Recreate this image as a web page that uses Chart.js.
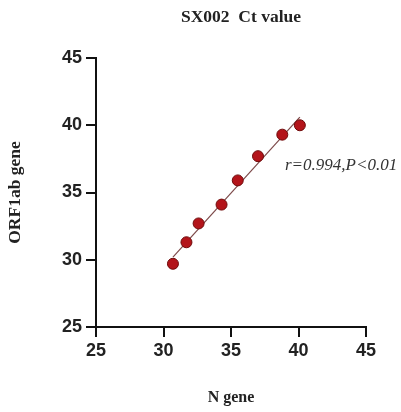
<!DOCTYPE html>
<html>
<head>
<meta charset="utf-8">
<script src="https://cdn.jsdelivr.net/npm/chart.js@4.4.0/dist/chart.umd.min.js"></script>
<style>
  html, body { margin: 0; padding: 0; background: #fff; }
  #wrap { width: 401px; height: 412px; }
</style>
</head>
<body>
<div id="wrap"><canvas id="ct"></canvas></div>
<script>
// Ct values
var nGene = [30.7, 31.7, 32.6, 34.3, 35.5, 37.0, 38.8, 40.1];
var orfGene = [29.7, 31.3, 32.7, 34.1, 35.9, 37.7, 39.3, 40.0];
// fitted line ends (as drawn in the reference)
var fitX = [30.7, 40.1];
var fitY = [30.2, 40.6];
var tickVals = [25, 30, 35, 40, 45];
var chartTitle = 'SX002  Ct value';
var statText = 'r=0.994,P<0.01';

var pts = nGene.map(function (x, i) { return {x: x, y: orfGene[i]}; });
var fit = fitX.map(function (x, i) { return {x: x, y: fitY[i]}; });

// title + r/P text drawn by hand
var textPlugin = {
  id: 'texts',
  afterDraw: function (chart) {
    var ctx = chart.ctx;
    ctx.save();
    ctx.fillStyle = '#222';
    ctx.font = 'bold 17.5px "Liberation Serif"';
    ctx.textAlign = 'center';
    ctx.textBaseline = 'middle';
    ctx.fillText(chartTitle, 241, 17);
    ctx.font = 'italic 17px "Liberation Serif"';
    ctx.textAlign = 'left';
    ctx.fillStyle = '#333';
    var xs = chart.scales.x, ys = chart.scales.y;
    ctx.fillText(statText, xs.getPixelForValue(39.0), ys.getPixelForValue(37.0));
    ctx.restore();
  }
};

var axisCommon = function (titleText, titleSize, titlePad) {
  return {
    type: 'linear',
    min: 25,
    max: 45,
    afterBuildTicks: function (s) { s.ticks = tickVals.map(function (v) { return {value: v}; }); },
    grid: { display: true, drawOnChartArea: false, drawTicks: true, tickLength: 10, color: '#111', lineWidth: 2 },
    border: { display: true, color: '#111', width: 2 },
    ticks: { color: '#222', font: { family: '"Liberation Sans"', size: 18, weight: 'bold' }, padding: 4 },
    title: { display: true, text: titleText, color: '#222', font: { family: '"Liberation Serif"', size: titleSize, weight: 'bold' }, padding: titlePad }
  };
};

var xOpt = axisCommon('N gene', 16, {top: 0, bottom: 5});
xOpt.afterFit = function (s) { s.height = 85; };
xOpt.ticks.padding = 3;
var yOpt = axisCommon('ORF1ab gene', 17.5, {top: 5, bottom: 0});
yOpt.afterFit = function (s) { s.width = 96; };

new Chart(document.getElementById('ct'), {
  type: 'scatter',
  data: {
    datasets: [
      {
        type: 'line',
        data: fit,
        borderColor: '#7d4a4a',
        borderWidth: 1.2,
        pointRadius: 0,
        fill: false,
        order: 2
      },
      {
        data: pts,
        backgroundColor: '#b3141a',
        borderColor: '#6e0a0a',
        borderWidth: 1,
        pointRadius: 5.5,
        order: 1
      }
    ]
  },
  plugins: [textPlugin],
  options: {
    responsive: true,
    maintainAspectRatio: false,
    animation: false,
    layout: { padding: { top: 58, right: 35, left: 0, bottom: 0 } },
    plugins: { legend: { display: false }, tooltip: { enabled: false }, title: { display: false } },
    scales: { x: xOpt, y: yOpt }
  }
});
</script>
</body>
</html>
